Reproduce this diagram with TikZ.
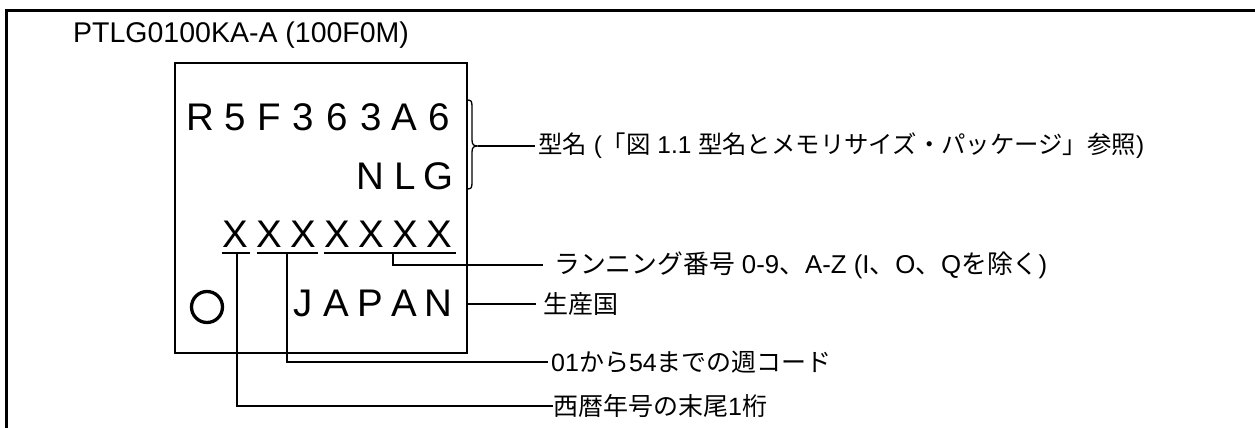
\documentclass[tikz,border=0pt]{standalone}
\usepackage{fontspec}
\setmainfont{Liberation Sans}
\newfontfamily\jpf{Noto Sans CJK JP}
\newcommand\gridtext[1]{\gridloop#1\relax}
\def\gridloop#1{\ifx#1\relax\else\makebox[34pt][c]{#1}\expandafter\gridloop\fi}
\begin{document}
\begin{tikzpicture}[x=1pt,y=1pt,
  frame/.style={line width=3pt},
  chipbox/.style={draw,line width=2pt,inner sep=0pt},
  lead/.style={line width=1.3pt},
  uline/.style={line width=1.5pt},
  big/.style={inner sep=0pt,font=\fontsize{38.5}{44}\selectfont},
  lbl/.style={inner sep=0pt,anchor=west,font=\fontsize{25}{29}\selectfont},
]
\useasboundingbox (0,0) rectangle (1255,-428);
\draw[frame] (6,-430) -- (6,-11) -- (1258,-11);
\node[inner sep=0pt,anchor=base west,font=\fontsize{28.5}{34}\selectfont] (title) at (73,-43) {PTLG0100KA-A (100F0M)};
\node[chipbox,minimum width=292pt,minimum height=290pt,anchor=north west] (chip) at (174,-62) {};
\node[big,anchor=base east] (pn) at (456,-130) {\gridtext{R5F363A6}};
\node[big,anchor=base east] (suf) at (456,-189) {\gridtext{NLG}};
\node[big,anchor=base east] (lot) at (457,-247) {\gridtext{XXXXXXX}};
\node[big,anchor=base east] (cty) at (456,-316) {\gridtext{JAPAN}};
\node[draw,circle,line width=3.3pt,minimum size=31pt,inner sep=0pt] (pin) at (207,-307) {};
% underlines
\coordinate (u1a) at (222,-253); \coordinate (u1b) at (250,-253);
\coordinate (u2a) at (257,-253); \coordinate (u2b) at (318,-253);
\coordinate (u3a) at (324,-253); \coordinate (u3b) at (456,-253);
\draw[uline] (u1a) -- (u1b);
\draw[uline] (u2a) -- (u2b);
\draw[uline] (u3a) -- (u3b);
\coordinate (u1m) at (237,-253);
\coordinate (u2m) at (287,-253);
\coordinate (u3m) at (393,-253);
% brace
\coordinate (btip) at (478,-146);
\draw[lead] (467,-100) .. controls (471,-100) and (472,-101) .. (472,-106) -- (472,-140) .. controls (472,-145) and (474,-146) .. (btip) .. controls (474,-146) and (472,-147) .. (472,-152) -- (472,-183) .. controls (472,-188) and (471,-189) .. (467,-189);
% labels
\node[lbl,font=\fontsize{24.4}{28}\selectfont] (l1) at (538,-146) {{\jpf 型名} ({\jpf 「図} 1.1 {\jpf 型名とメモリサイズ・パッケージ」参照})};
\node[lbl,font=\fontsize{25.8}{30}\selectfont] (l2) at (554,-265) {{\jpf ランニング番号} 0-9{\jpf 、}A-Z (I{\jpf 、}O{\jpf 、}Q{\jpf を除く})};
\node[lbl] (l3) at (543,-304) {{\jpf 生産国}};
\node[lbl] (l4) at (551,-362) {01{\jpf から}54{\jpf までの週コード}};
\node[lbl] (l5) at (553,-406) {{\jpf 西暦年号の末尾}1{\jpf 桁}};
% connectors
\draw[lead] (btip) -- ([xshift=-3pt]l1.west);
\draw[lead] (u3m) |- ([xshift=-11pt]l2.west);
\draw[lead] (chip.east |- l3.west) -- ([xshift=-7pt]l3.west);
\draw[lead] (u2m) |- ([xshift=-3pt]l4.west);
\draw[lead] (u1m) |- (l5.west);
\end{tikzpicture}
\end{document}
